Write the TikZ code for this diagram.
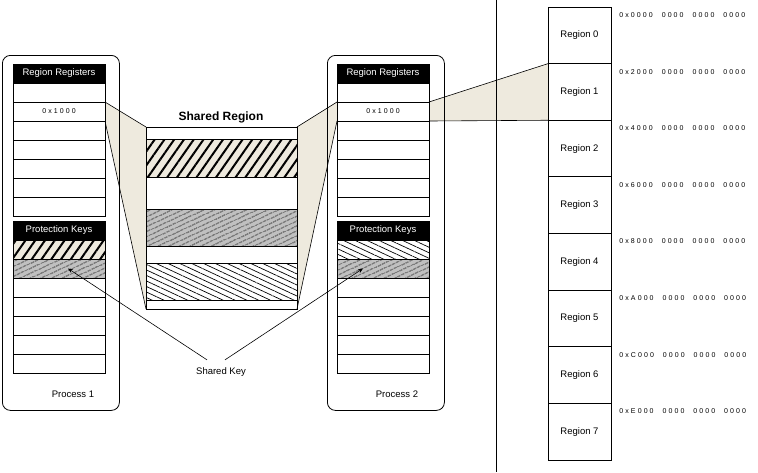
\documentclass[tikz,border=0pt]{standalone}
\usepackage{fontspec}
\setmainfont{Liberation Sans}
\newfontfamily\hexfont[LetterSpace=30,WordSpace=2.2]{Liberation Sans}
\usetikzlibrary{patterns.meta,arrows.meta,backgrounds}
\definecolor{mapbeige}{RGB}{238,234,222}
\definecolor{keygray}{RGB}{192,192,192}
\newcommand\celltext{\fontsize{9.5}{11}\selectfont}
\newcommand\hextext{\fontsize{7}{9}\hexfont}

\tikzset{
  cell/.style={draw, minimum width=92pt, minimum height=19pt, inner sep=0pt, outer sep=0pt, anchor=north west},
  headcell/.style={cell, fill=black, text=white, font=\celltext},
  procbox/.style={draw, rounded corners=8pt, minimum width=117pt, minimum height=355pt, anchor=north west},
  band/.style={draw, minimum width=151pt, inner sep=0pt, outer sep=0pt, anchor=north west},
  regcell/.style={draw, minimum width=63pt, minimum height=56.625pt, inner sep=0pt, outer sep=0pt, anchor=north west, font=\celltext},
  addr/.style={anchor=west, inner sep=0pt, font=\hextext},
  heavyhatch/.style={preaction={fill=mapbeige}, pattern={Lines[angle=55,distance=8pt,line width=2pt]}},
  grayhatch/.style={preaction={fill=keygray}, pattern={Lines[angle=25,distance=4pt,line width=0.7pt]}},
  backhatch/.style={pattern={Lines[angle=-25,distance=5pt,line width=0.7pt]}},
  edge/.style={line width=0.6pt}
}

\begin{document}
\begin{tikzpicture}[x=1pt, y=-1pt, line width=0.8pt]
   \useasboundingbox (0,0) rectangle (758,472);

   % process 1
   \node[procbox] (proc1) at (2,55) {};
   \node[headcell] (p1head) at (13,64) {Region Registers};
   \foreach \i in {0,...,6}
      \node[cell] (p1reg\i) at (13,{83+19*\i}) {};
   \node[font=\hextext] at (p1reg1.center) {0x1000};
   \node[headcell] (p1khead) at (13,221) {Protection Keys};
   \node[cell, heavyhatch] (p1key0) at (13,240) {};
   \node[cell, grayhatch] (p1key1) at (13,259) {};
   \foreach \i in {2,...,6}
      \node[cell] (p1key\i) at (13,{240+19*\i}) {};
   \node[font=\celltext] (p1name) at (73,394) {Process 1};

   % process 2
   \node[procbox] (proc2) at (327,55) {};
   \node[headcell] (p2head) at (337,64) {Region Registers};
   \foreach \i in {0,...,6}
      \node[cell] (p2reg\i) at (337,{83+19*\i}) {};
   \node[font=\hextext] at (p2reg1.center) {0x1000};
   \node[headcell] (p2khead) at (337,221) {Protection Keys};
   \node[cell, backhatch] (p2key0) at (337,240) {};
   \node[cell, grayhatch] (p2key1) at (337,259) {};
   \foreach \i in {2,...,6}
      \node[cell] (p2key\i) at (337,{240+19*\i}) {};
   \node[font=\celltext] (p2name) at (397,394) {Process 2};

   % shared region
   \node[font=\fontsize{12}{14}\selectfont\bfseries] (stitle) at (221,117) {Shared Region};
   \node[band, minimum height=182pt] (shared) at (146,127) {};
   \node[band, minimum height=38pt, heavyhatch] (band1) at (146,139) {};
   \node[band, minimum height=37pt, grayhatch] (band2) at (146,209) {};
   \node[band, minimum height=37pt, backhatch] (band3) at (146,263) {};

   % address space
   \draw (496,0) -- (496,472);
   \foreach \i in {0,...,7}
      \node[regcell] (reg\i) at (548,{7+56.625*\i}) {Region \i};
   \foreach \a [count=\i from 0] in {0,2,4,6,8,A,C,E}
      \node[addr] (addr\i) at (619,{15+56.625*\i}) {0x\a000 0000 0000 0000};

   % mappings
   \begin{scope}[on background layer]
      \fill[mapbeige] (p1reg1.north east) -- (shared.north west) -- (shared.south west) -- (p1reg1.south east) -- cycle;
      \fill[mapbeige] (p2reg1.north west) -- (shared.north east) -- (shared.south east) -- (p2reg1.south west) -- cycle;
      \fill[mapbeige] (p2reg1.north east) -- (reg1.north west) -- (reg1.south west) -- (p2reg1.south east) -- cycle;
   \end{scope}
   \draw[edge] (p1reg1.north east) -- (shared.north west);
   \draw[edge] (p1reg1.south east) -- (shared.south west);
   \draw[edge] (p2reg1.north west) -- (shared.north east);
   \draw[edge] (p2reg1.south west) -- (shared.south east);
   \draw[edge] (p2reg1.north east) -- (reg1.north west);
   \draw[edge] (p2reg1.south east) -- (reg1.south west);

   % shared key
   \node[font=\celltext] (skey) at (221,372) {Shared Key};
   \draw[edge, -{Stealth[length=5pt,width=4pt]}] ([shift={(-14pt,4pt)}]skey.north) -- ([xshift=9pt]p1key1.center);
   \draw[edge, -{Stealth[length=5pt,width=4pt]}] ([shift={(4pt,4pt)}]skey.north) -- ([xshift=-20pt]p2key1.center);

\end{tikzpicture}
\end{document}
